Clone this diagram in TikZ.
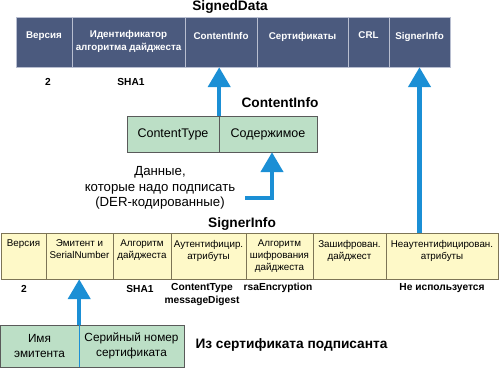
\documentclass[tikz,border=0pt]{standalone}
\usepackage{fontspec}
\setmainfont{Liberation Sans}
\usetikzlibrary{arrows.meta}
\definecolor{sdfill}{HTML}{4B5A7E}
\definecolor{sdline}{HTML}{B8BED0}
\definecolor{sifill}{HTML}{FEF9C8}
\definecolor{siline}{HTML}{7D7556}
\definecolor{boxfill}{HTML}{BCDFC6}
\definecolor{boxline}{HTML}{5A5A5A}
\definecolor{flowblue}{HTML}{1B8FD5}

\begin{document}
\begin{tikzpicture}[
  x=1pt, y=-1pt,
  sdcell/.style={draw=sdline,fill=sdfill,minimum height=50pt,inner sep=0pt},
  sdtext/.style={anchor=north,yshift=-15pt,inner sep=0pt,align=center,text=white,font=\fontsize{9.8}{13}\selectfont\bfseries},
  sicell/.style={draw=siline,fill=sifill,minimum height=46pt,inner sep=0pt},
  sitext/.style={anchor=north,yshift=-7pt,inner sep=0pt,align=center,font=\fontsize{9.8}{12}\selectfont},
  cicell/.style={draw=boxline,fill=boxfill,minimum height=36pt,inner sep=0pt,font=\fontsize{12.5}{15}\selectfont},
  crtcell/.style={draw=boxline,fill=boxfill,minimum height=42pt,inner sep=0pt,align=center,font=\fontsize{11.8}{15}\selectfont},
  title/.style={font=\fontsize{13.7}{16}\selectfont\bfseries},
  value/.style={align=center,font=\fontsize{10.2}{13}\selectfont\bfseries},
  flow/.style={draw=flowblue,line width=4.5pt,-{Triangle[length=20pt,width=22pt]}}
]
  \useasboundingbox (0,0) rectangle (500,368);

  % SignedData
  \node[title] (sdtitle) at (230,7) {SignedData};
  \node[sdcell,minimum width=56pt,label={[sdtext]north:Версия}] (sdver) at (44,42) {};
  \node[sdcell,minimum width=113pt,label={[sdtext,yshift=2pt]north:{Идентификатор\\алгоритма дайджеста}}] (sdalg) at (128.5,42) {};
  \node[sdcell,minimum width=72pt,label={[sdtext]north:ContentInfo}] (sdci) at (221,42) {};
  \node[sdcell,minimum width=91pt,label={[sdtext]north:Сертификаты}] (sdcert) at (302.5,42) {};
  \node[sdcell,minimum width=41pt,label={[sdtext]north:CRL}] (sdcrl) at (368.5,42) {};
  \node[sdcell,minimum width=61pt,label={[sdtext]north:SignerInfo}] (sdsi) at (419.5,42) {};
  \node[value] (sdvalver) at (48,82) {2};
  \node[value] (sdvalalg) at (131,82) {SHA1};

  % ContentInfo
  \node[title] (cititle) at (280,103) {ContentInfo};
  \node[cicell,minimum width=92pt] (citype) at (173,134) {ContentType};
  \node[cicell,minimum width=98pt] (cicont) at (268,134) {Содержимое};
  \node[align=center,font=\fontsize{13.2}{15.5}\selectfont] (data) at (160,188)
    {Данные,\\которые надо подписать\\(DER-кодированные)};
  \coordinate (datastart) at (245,198);

  % SignerInfo
  \node[title] (sititle) at (242,224) {SignerInfo};
  \node[sicell,minimum width=45pt,label={[sitext]north:Версия}] (sivar) at (23.5,256) {};
  \node[sicell,minimum width=67pt,label={[sitext]north:{Эмитент и\\SerialNumber}}] (siiss) at (79.5,256) {};
  \node[sicell,minimum width=58pt,label={[sitext]north:{Алгоритм\\дайджеста}}] (sidig) at (142,256) {};
  \node[sicell,minimum width=75pt,label={[sitext]north:{Аутентифицир.\\атрибуты}}] (siauth) at (208.5,256) {};
  \node[sicell,minimum width=67pt,label={[sitext]north:{Алгоритм\\шифрования\\дайджеста}}] (sienc) at (279.5,256) {};
  \node[sicell,minimum width=73pt,label={[sitext]north:{Зашифрован.\\дайджест}}] (sisig) at (349.5,256) {};
  \node[sicell,minimum width=112pt,label={[sitext]north:{Неаутентифицирован.\\атрибуты}}] (siunauth) at (442,256) {};
  \node[value] (sivalver) at (24,289) {2};
  \node[value] (sivaldig) at (140,289) {SHA1};
  \node[value] (sivalauth) at (202,294.5) {ContentType\\messageDigest};
  \node[value] (sivalenc) at (278,288) {rsaEncryption};
  \node[value] (sivalunauth) at (442,288) {Не используется};

  % certificate
  \node[crtcell,minimum width=79pt] (crtname) at (39.5,346) {Имя\\эмитента};
  \node[crtcell,minimum width=105pt] (crtserial) at (131.5,346) {Серийный номер\\сертификата};
  \draw[flowblue] (crtname.north east) -- (crtname.south east);
  \node[title,anchor=west] (crttitle) at (192,345) {Из сертификата подписанта};

  % arrows
  \draw[flow] (citype.north east) -- (citype.north east |- sdci.south);
  \draw[flow] (datastart) -| ([xshift=4pt]cicont.south);
  \draw[flow] (sdsi.south |- siunauth.north) -- (sdsi.south);
  \draw[flow] (crtname.north east) -- (crtname.north east |- siiss.south);
\end{tikzpicture}
\end{document}
